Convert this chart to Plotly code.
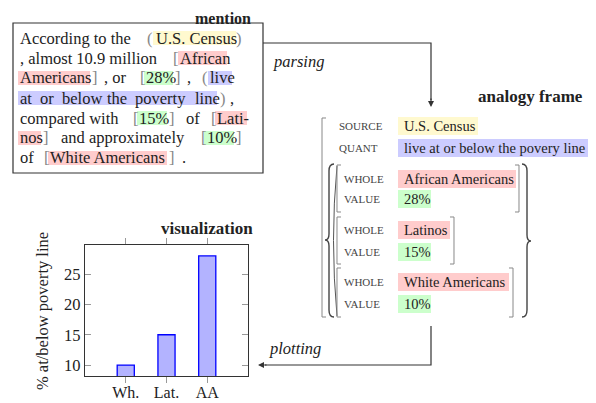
import plotly.graph_objects as go

# ---------------- data ----------------
categories = ["Wh.", "Lat.", "AA"]
values = [10, 15, 28]
y_ticks = [10, 15, 20, 25]
y_label = "% at/below poverty line"

W, H = 596, 403
OFF = 8  # the page's body margin shifts the figure by 8px
FONT = "Liberation Serif"
TXT = "#222222"
BRK = "#888888"
LINE = "#333333"
YEL, RED, GRN, BLU = "#fff9cf", "#ffcccc", "#ccffcc", "#ccccff"


def X(x):
    return (x - OFF) / W


def Y(y):
    return 1 - (y - OFF) / H


fig = go.Figure(
    go.Bar(
        x=categories,
        y=values,
        width=0.42,
        marker=dict(color="#b3b3ff", line=dict(color="#0000ff", width=1.3)),
    )
)

shapes = []
annotations = []


def rect(x0, y0, x1, y1, fill=None, line=None, lw=1.0, layer="below"):
    shapes.append(dict(type="rect", xref="paper", yref="paper",
                       x0=X(x0), x1=X(x1), y0=Y(y1), y1=Y(y0),
                       fillcolor=fill if fill else "rgba(0,0,0,0)",
                       line=dict(color=line if line else "rgba(0,0,0,0)", width=lw if line else 0),
                       layer=layer))


def P(p):
    return f"{X(p[0]):.5f},{Y(p[1]):.5f}"


def path(segs, color=BRK, lw=1.0):
    parts = []
    for seg in segs:
        cmd, pts = seg[0], list(seg[1:])
        if cmd == "Q":
            for i in range(0, len(pts), 2):
                parts.append(f"Q{P(pts[i])} {P(pts[i + 1])}")
        else:
            for i, p in enumerate(pts):
                c = cmd if (cmd == "L" or i == 0) else "L"
                parts.append(f"{c}{P(p)}")
    shapes.append(dict(type="path", xref="paper", yref="paper", path=" ".join(parts),
                       line=dict(color=color, width=lw), layer="above"))


def txt(x, y, s, size=16.5, color=TXT, anchor="left", **kw):
    annotations.append(dict(x=X(x), y=Y(y), xref="paper", yref="paper", text=s,
                            showarrow=False, xanchor=anchor, yanchor="middle",
                            borderpad=0,
                            font=dict(family=FONT, size=size, color=color), **kw))


# ---------------- mention box ----------------
txt(223, 18, "<b>mention</b>", size=16, anchor="center")
rect(13, 23, 263, 173, line=LINE, lw=1.2, layer="above")

hl = [  # (x0, x1, line center, colour)
    (153, 236, 38, YEL), (178, 227, 58, RED),
    (18, 90, 78, RED), (144, 173, 78, GRN), (208, 232, 78, BLU),
    (18, 217, 98, BLU),
    (137, 167, 118, GRN), (215, 247, 118, RED),
    (18, 41, 138, RED), (204, 234, 138, GRN),
    (48, 167, 158, RED),
]
for x0, x1, yc, c in hl:
    rect(x0, yc - 7, x1, yc + 7, fill=c)

segs = [
    (19, 38, "According to the"), (146, 38, "(", BRK), (155, 38, "U.S. Census"), (235, 38, ")", BRK),
    (19, 58, ", almost 10.9 million"), (172, 58, "[", BRK), (179, 58, "African"),
    (19, 78, "Americans"), (91, 78, "]", BRK), (103, 78, ", or"), (139, 78, "[", BRK),
    (145, 78, "28%"), (174, 78, "]", BRK), (186, 78, ","), (201, 78, "(", BRK), (209, 78, "live"),
    (19, 98, "at"), (39, 98, "or"), (61, 98, "below"), (106, 98, "the"), (134, 98, "poverty"),
    (194, 98, "line"), (219, 98, ")", BRK), (229, 98, ","),
    (19, 118, "compared with"), (132, 118, "[", BRK), (138, 118, "15%"), (168, 118, "]", BRK),
    (185, 118, "of"), (210, 118, "[", BRK), (216, 118, "Lati-"),
    (19, 138, "nos"), (42, 138, "]", BRK), (60, 138, "and approximately"), (200, 138, "[", BRK),
    (206, 138, "10%"), (235, 138, "]", BRK),
    (19, 158, "of"), (43, 158, "[", BRK), (49, 158, "White Americans"), (168, 158, "]", BRK),
    (181, 158, "."),
]
for s in segs:
    txt(s[0], s[1], s[2], color=s[3] if len(s) > 3 else TXT)

# ---------------- parsing arrow ----------------
path([("M", (263, 43)), ("L", (431, 43), (431, 100))], color=LINE, lw=1.2)
annotations.append(dict(x=X(431), y=Y(107), xref="paper", yref="paper", ax=0, ay=-10,
                        showarrow=True, arrowhead=2, arrowsize=1, arrowwidth=1.2,
                        arrowcolor=LINE, text=""))
txt(272, 62, "<i>parsing</i>")

# ---------------- analogy frame ----------------
txt(530, 97, "<b>analogy frame</b>", size=17, anchor="center")

# outer bracket
path([("M", (326, 118)), ("L", (322, 118), (322, 317), (326, 317))])
path([("M", (589, 118)), ("L", (593, 118), (593, 317), (589, 317))])
# braces
path([("M", (334, 164)), ("Q", (329, 164), (329, 171)), ("L", (329, 234)),
      ("Q", (329, 240), (325, 240)), ("Q", (329, 240), (329, 246)), ("L", (329, 310)),
      ("Q", (329, 317), (334, 317))], color="#444444", lw=1.4)
path([("M", (337, 166)), ("Q", (330, 240), (337, 316))], color="#555555", lw=1.0)
path([("M", (522, 164)), ("Q", (527, 164), (527, 171)), ("L", (527, 235)),
      ("Q", (527, 241), (531, 241)), ("Q", (527, 241), (527, 247)), ("L", (527, 310)),
      ("Q", (527, 317), (522, 317))], color="#444444", lw=1.4)
# inner brackets
for y0, y1, xr in [(165, 212, 519), (217, 264, 454), (268, 317, 513)]:
    path([("M", (341, y0)), ("L", (337, y0), (337, y1), (341, y1))])
    path([("M", (xr - 4, y0)), ("L", (xr, y0), (xr, y1), (xr - 4, y1))])

frame_rows = [
    ("SOURCE", 338, 126, "U.S. Census", 478, YEL),
    ("QUANT", 338, 148, "live at or below the povery line", 589, BLU),
    ("WHOLE", 343, 179, "African Americans", 516, RED),
    ("VALUE", 343, 199, "28%", 431, GRN),
    ("WHOLE", 343, 230, "Latinos", 450, RED),
    ("VALUE", 343, 252, "15%", 431, GRN),
    ("WHOLE", 343, 282, "White Americans", 509, RED),
    ("VALUE", 343, 304, "10%", 431, GRN),
]
for lab, lx, yc, val, x1, c in frame_rows:
    txt(lx, yc, lab, size=11, color="#444444")
    rect(398, yc - 9, x1, yc + 9, fill=c)
    txt(403, yc, val, size=14.5)

# ---------------- plotting arrow ----------------
path([("M", (431, 326)), ("L", (431, 365), (265, 365))], color=LINE, lw=1.2)
annotations.append(dict(x=X(258), y=Y(365), xref="paper", yref="paper", ax=10, ay=0,
                        showarrow=True, arrowhead=2, arrowsize=1, arrowwidth=1.2,
                        arrowcolor=LINE, text=""))
txt(268, 348, "<i>plotting</i>")

# ---------------- visualization ----------------
txt(207, 229, "<b>visualization</b>", size=17, anchor="center")
txt(42, 311, y_label, anchor="center", textangle=-90)

fig.update_layout(
    width=W, height=H,
    margin=dict(l=0, r=0, t=0, b=0),
    paper_bgcolor="white", plot_bgcolor="white",
    showlegend=False,
    shapes=shapes, annotations=annotations,
    font=dict(family=FONT, size=16.5, color=TXT),
    xaxis=dict(domain=[X(85), X(248)], range=[-1, 3], type="category",
               showline=True, linecolor=LINE, linewidth=1.2, mirror="allticks",
               ticks="outside", ticklen=6, tickcolor="#999999", tickwidth=1.2,
               ticklabelstandoff=-4,
               showgrid=False, zeroline=False,
               tickfont=dict(family=FONT, size=16, color=TXT)),
    yaxis=dict(domain=[Y(376), Y(245)], range=[8.2, 29.8],
               tickvals=y_ticks,
               showline=True, linecolor=LINE, linewidth=1.2, mirror="allticks",
               ticks="inside", ticklen=6, tickcolor="#999999", tickwidth=1.2,
               showgrid=False, zeroline=False,
               tickfont=dict(family=FONT, size=16.5, color=TXT)),
)

fig.write_html("out.html")
